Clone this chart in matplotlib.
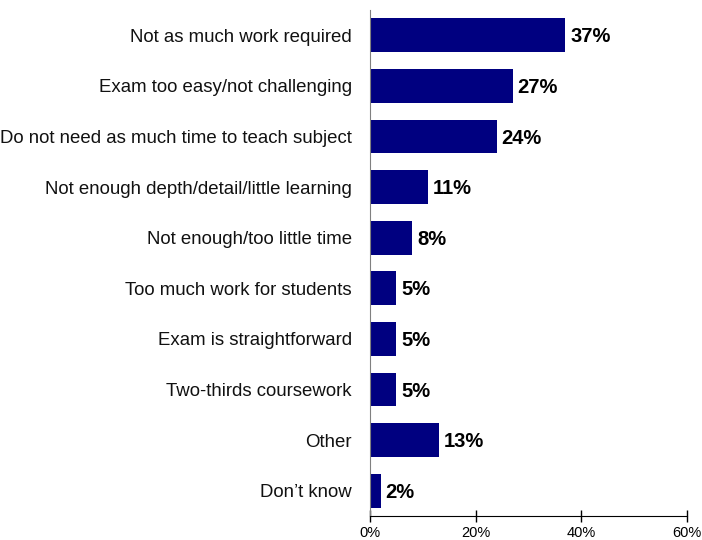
import numpy as np
import matplotlib.pyplot as plt

categories = [
    "Not as much work required",
    "Exam too easy/not challenging",
    "Do not need as much time to teach subject",
    "Not enough depth/detail/little learning",
    "Not enough/too little time",
    "Too much work for students",
    "Exam is straightforward",
    "Two-thirds coursework",
    "Other",
    "Don\u2019t know",
]
values = [37, 27, 24, 11, 8, 5, 5, 5, 13, 2]
xticks = [0, 20, 40, 60]

plt.rcParams['font.family'] = ['Liberation Sans', 'DejaVu Sans']

fig = plt.figure(figsize=(7.02, 5.4), dpi=100)
ax = fig.add_axes([370 / 702, 24 / 540, 317 / 702, 506 / 540])

y = np.arange(len(categories))
ax.barh(y, values, height=0.67, color='#000080')
ax.set_ylim(len(categories) - 0.5, -0.5)
ax.set_xlim(0, 60)

# value labels just past the bar ends
for yi, v in zip(y, values):
    ax.text(v + 0.9, yi + 0.03, f"{v}%", va='center', ha='left', fontsize=14.5,
            fontweight='bold', color='black')

ax.set_yticks(y)
ax.set_yticklabels(categories, fontsize=13.4, color='#111111')
ax.tick_params(axis='y', length=0, pad=13)
ax.set_xticks(xticks)
ax.set_xticklabels([f"{t}%" for t in xticks], fontsize=10.5)
ax.tick_params(axis='x', direction='inout', length=8, width=1, pad=3)

ax.spines['top'].set_visible(False)
ax.spines['right'].set_visible(False)
ax.spines['left'].set_color('#808080')
ax.spines['bottom'].set_color('black')

fig.savefig("out.png", dpi=100)
